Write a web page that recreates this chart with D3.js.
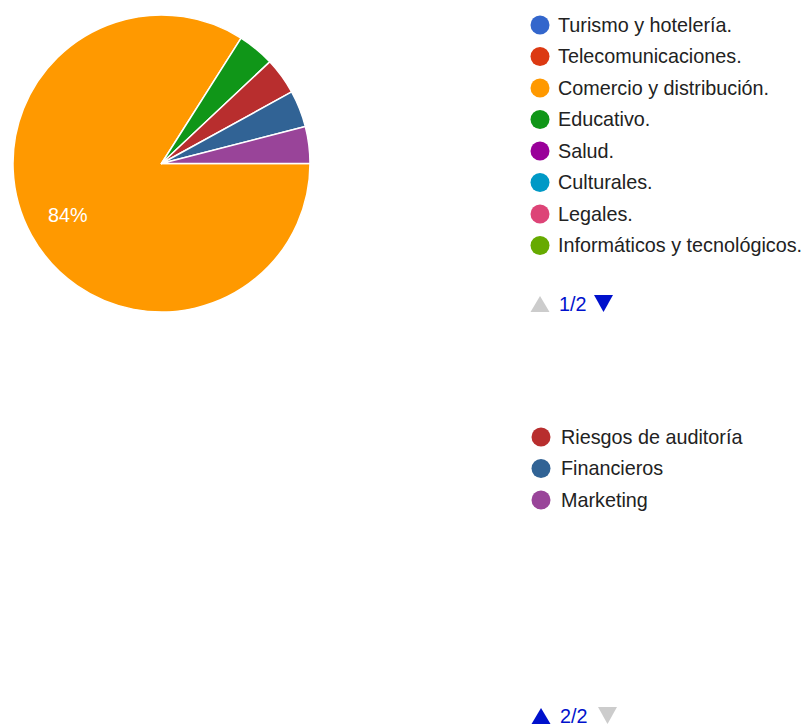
<!DOCTYPE html>
<html>
<head>
<meta charset="utf-8">
<script src="https://cdn.jsdelivr.net/npm/d3@7/dist/d3.min.js"></script>
<style>
  html, body { margin: 0; padding: 0; background: #fff; }
  svg { display: block; font-family: Arial, "Liberation Sans", sans-serif; }
</style>
</head>
<body>
<svg id="chart" width="804" height="728"></svg>
<script>
// Answer categories, in legend order
const categories = [
  "Turismo y hotelería.",
  "Telecomunicaciones.",
  "Comercio y distribución.",
  "Educativo.",
  "Salud.",
  "Culturales.",
  "Legales.",
  "Informáticos y tecnológicos.",
  "Riesgos de auditoría",
  "Financieros",
  "Marketing"
];
// Number of responses per category
const responses = [0, 0, 21, 1, 0, 0, 0, 0, 1, 1, 1];
// Slice / legend colours
const colors = [
  "#3366cc", "#dc3912", "#ff9900", "#109618", "#990099",
  "#0099c6", "#dd4477", "#66aa00", "#b82e2e", "#316395", "#994499"
];
// Legend pages (indices into categories)
const legendPages = [[0, 1, 2, 3, 4, 5, 6, 7], [8, 9, 10]];
const pagerLabels = ["1/2", "2/2"];

const svg = d3.select("#chart");
const total = d3.sum(responses);
const data = categories.map((c, i) => ({ name: c, value: responses[i], color: colors[i] }));
const fontSize = 19.8;

// ---- Pie ----
const cx = 161.5, cy = 163.5, radius = 148.5;
const pie = d3.pie()
  .value(d => d.value)
  .sort(null)
  .startAngle(Math.PI / 2)
  .endAngle(Math.PI / 2 + 2 * Math.PI);
const arcs = pie(data).filter(a => a.data.value > 0);
const arc = d3.arc().innerRadius(0).outerRadius(radius);
const labelArc = d3.arc().innerRadius(radius * 0.72).outerRadius(radius * 0.72);

const g = svg.append("g").attr("transform", `translate(${cx},${cy})`);
g.selectAll("path.slice")
  .data(arcs)
  .join("path")
  .attr("class", "slice")
  .attr("d", arc)
  .attr("fill", d => d.data.color)
  .attr("stroke", "#fff")
  .attr("stroke-width", 1.5)
  .attr("stroke-linejoin", "round");

const pct = d3.format(".0%");
g.selectAll("text.pct")
  .data(arcs.filter(a => a.data.value / total >= 0.1))
  .join("text")
  .attr("class", "pct")
  .attr("transform", d => `translate(${labelArc.centroid(d)})`)
  .attr("text-anchor", "middle")
  .attr("dy", "0.35em")
  .attr("fill", "#fff")
  .attr("font-size", fontSize)
  .text(d => pct(d.data.value / total));

// ---- Legend pages ----
const pageTops = [25, 437];
const pageX = [540, 541];
const rowStep = 31.5;
const pagerY = [304, 716];

legendPages.forEach((page, p) => {
  const lg = svg.append("g").attr("class", "legend-page");
  const rows = lg.selectAll("g.item")
    .data(page.map(i => data[i]))
    .join("g")
    .attr("class", "item")
    .attr("transform", (d, i) => `translate(${pageX[p]},${pageTops[p] + i * rowStep})`);
  rows.append("circle")
    .attr("r", 9.5)
    .attr("fill", d => d.color);
  rows.append("text")
    .attr("x", 18 + (p === 1 ? 2 : 0))
    .attr("dy", "0.35em")
    .attr("font-size", fontSize)
    .attr("fill", "#222")
    .text(d => d.name);

  // pager: ▲ n/N ▼
  const pg = lg.append("g").attr("transform", `translate(${pageX[p]},${pagerY[p]})`);
  const upActive = p > 0, downActive = p < legendPages.length - 1;
  const hw = 9.5, hh = 8;
  const downX = 63.5 + (p === 1 ? 3 : 0);
  pg.append("path")
    .attr("d", `M${-hw},${hh} L${hw},${hh} L0,${-hh} Z`)
    .attr("fill", upActive ? "#0011cc" : "#cccccc");
  pg.append("text")
    .attr("x", 19)
    .attr("dy", "0.35em")
    .attr("font-size", fontSize)
    .attr("fill", "#0011cc")
    .text(pagerLabels[p]);
  pg.append("path")
    .attr("d", `M${downX - hw},${-hh - 1} L${downX + hw},${-hh - 1} L${downX},${hh} Z`)
    .attr("fill", downActive ? "#0011cc" : "#cccccc");
});
</script>
</body>
</html>
